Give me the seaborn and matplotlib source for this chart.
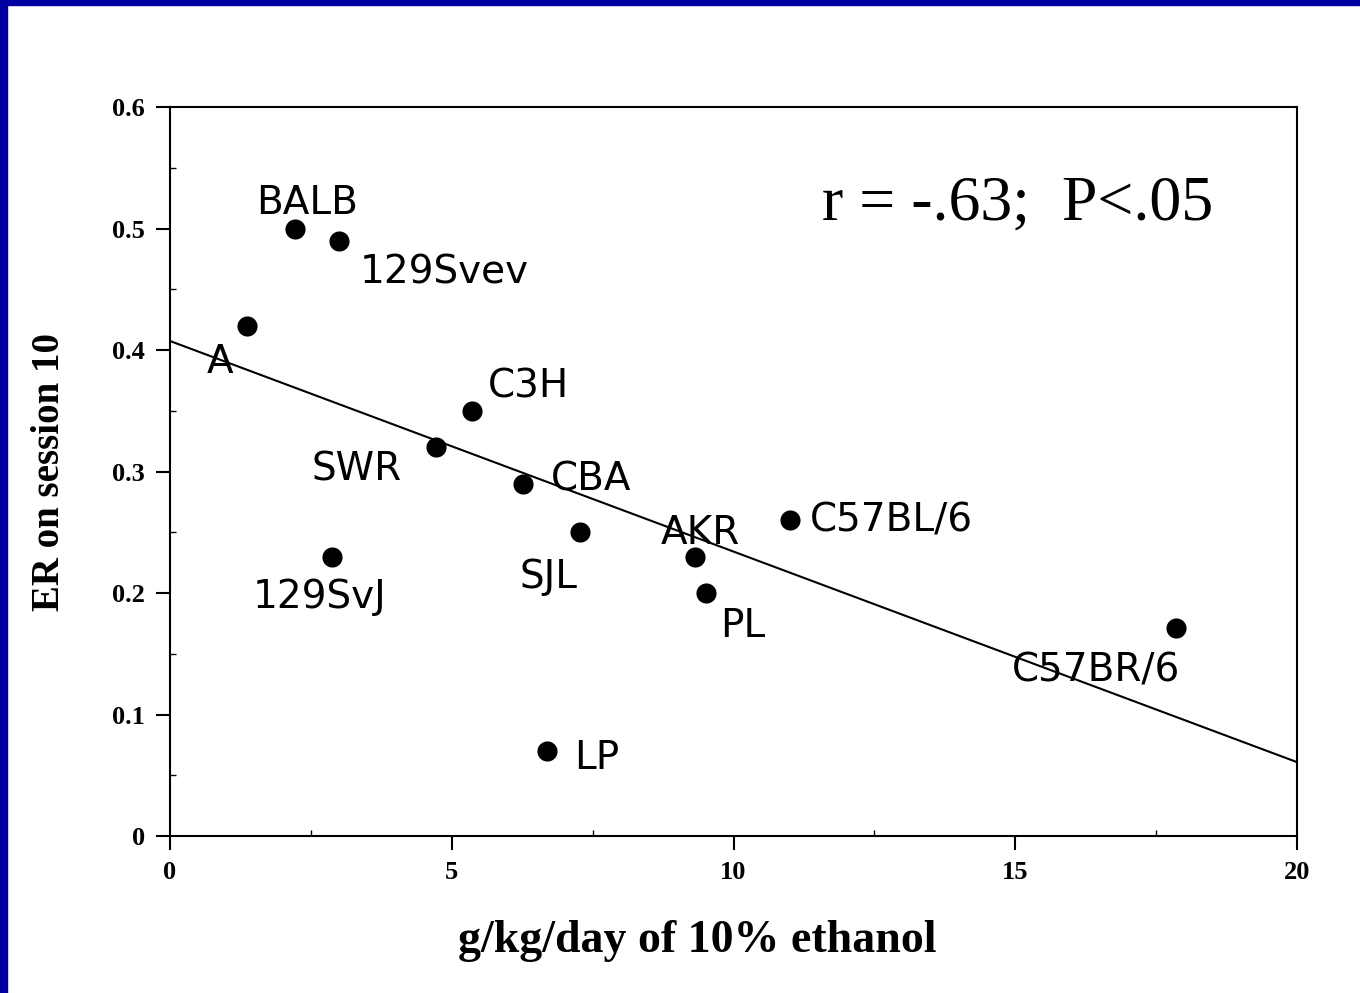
import matplotlib

matplotlib.use("Agg")

import matplotlib.pyplot as plt
import pandas as pd
import seaborn as sns
from matplotlib.patches import Rectangle
from matplotlib.ticker import MultipleLocator

# strain means
strains = ["BALB", "129Svev", "A", "C3H", "SWR", "CBA", "SJL",
           "AKR", "PL", "C57BL/6", "C57BR/6", "129SvJ", "LP"]
ethanol_intake = [2.22, 3.0, 1.37, 5.36, 4.72, 6.26, 7.28,
                  9.32, 9.51, 11.0, 17.85, 2.87, 6.69]
er_session10 = [0.50, 0.49, 0.42, 0.35, 0.32, 0.29, 0.25,
                0.23, 0.20, 0.26, 0.171, 0.23, 0.07]
x_ticks = [0, 5, 10, 15, 20]
y_ticks = [0, 0.1, 0.2, 0.3, 0.4, 0.5, 0.6]
y_tick_labels = ["0", "0.1", "0.2", "0.3", "0.4", "0.5", "0.6"]
stats_text = "r = -.63;  P<.05"

# label placement (pixel offset from the point, horizontal alignment)
label_place = {
    "BALB": (12, 26, "center"),
    "129Svev": (21, -32, "left"),
    "A": (-27, -36, "center"),
    "C3H": (16, 24, "left"),
    "SWR": (-34, -22, "right"),
    "CBA": (28, 4, "left"),
    "SJL": (-32, -45, "center"),
    "AKR": (5, 24, "center"),
    "PL": (14, -33, "left"),
    "C57BL/6": (20, 0, "left"),
    "C57BR/6": (4, -42, "right"),
    "129SvJ": (-12, -40, "center"),
    "LP": (27, -7, "left"),
}

df = pd.DataFrame({"strain": strains, "intake": ethanol_intake, "er": er_session10})

sns.set_style("ticks")
plt.rcParams["font.family"] = ["DejaVu Sans"]
plt.rcParams.update({"text.color": "black", "axes.labelcolor": "black",
                     "xtick.color": "black", "ytick.color": "black"})
serif = ["Liberation Serif", "DejaVu Serif"]

fig = plt.figure(figsize=(13.6, 9.93), dpi=100)
ax = fig.add_axes([0.125, 0.1581, 0.8287, 0.7341])
ax.set_xlim(0, 20)
ax.set_ylim(0, 0.6)

sns.regplot(
    data=df,
    x="intake",
    y="er",
    ci=None,
    truncate=False,
    scatter_kws={"s": 210, "color": "black", "alpha": 1, "linewidths": 0, "zorder": 3},
    line_kws={"color": "black", "lw": 1.5},
    ax=ax,
)
ax.set_xlim(0, 20)
ax.set_ylim(0, 0.6)

for name, xv, yv in zip(strains, ethanol_intake, er_session10):
    dx, dy, ha = label_place[name]
    ax.annotate(name, (xv, yv), xytext=(dx, dy), textcoords="offset pixels",
                ha=ha, va="center", fontsize=28, color="black")

ax.text(822 / 1360, 1 - 220 / 993, stats_text, transform=fig.transFigure,
        fontsize=46, family=serif, ha="left", va="baseline", color="black")

ax.set_xticks(x_ticks)
ax.set_xticklabels([str(t) for t in x_ticks])
ax.set_yticks(y_ticks)
ax.set_yticklabels(y_tick_labels)
ax.yaxis.set_minor_locator(MultipleLocator(0.05))
ax.xaxis.set_minor_locator(MultipleLocator(2.5))
ax.tick_params(which="major", direction="out", length=10, width=1.5, pad=8)
ax.tick_params(which="minor", direction="in", length=4, width=1.0)
for lab in ax.get_xticklabels() + ax.get_yticklabels():
    lab.set_fontfamily(serif)
    lab.set_fontweight("bold")
    lab.set_fontsize(19)

for side in ["left", "right", "top", "bottom"]:
    ax.spines[side].set_visible(True)
    ax.spines[side].set_color("black")
    ax.spines[side].set_linewidth(1.5)

ax.set_xlabel("g/kg/day of 10% ethanol", fontsize=33, fontweight="bold",
              family=serif, labelpad=26)
ax.xaxis.label.set_x(0.4676)
ax.set_ylabel("ER on session 10", fontsize=28, fontweight="bold",
              family=serif, labelpad=32)

# dark blue slide frame on left and top
fig.patches.append(Rectangle((0, 0), 7 / 1360, 1, transform=fig.transFigure,
                             color="#0000a0", zorder=10))
fig.patches.append(Rectangle((0, 1 - 5 / 993), 1, 5 / 993, transform=fig.transFigure,
                             color="#0000a0", zorder=10))

fig.savefig("out.png", dpi=100)
plt.close(fig)
